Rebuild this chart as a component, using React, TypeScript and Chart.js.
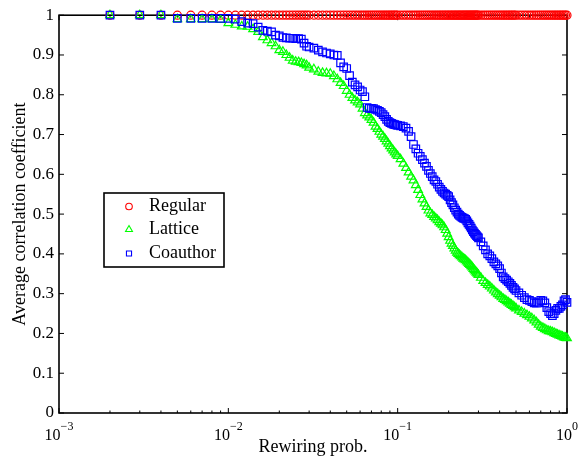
import { useEffect, useRef } from 'react';
import { Chart, registerables } from 'chart.js';

Chart.register(...registerables);

const FONT = "'Liberation Serif', 'Times New Roman', Times, serif";

const xValues = [
  0.002, 0.003, 0.004, 0.005, 0.006, 0.007, 0.008, 0.009, 0.010, 0.011,
  0.012, 0.013, 0.014, 0.015, 0.016, 0.017, 0.018, 0.019, 0.020, 0.021,
  0.022, 0.023, 0.024, 0.025, 0.026, 0.027, 0.028, 0.029, 0.030,
  0.032, 0.034, 0.036, 0.038, 0.040, 0.042, 0.044, 0.046, 0.048, 0.050,
  0.052, 0.054, 0.056, 0.058, 0.060, 0.062, 0.064, 0.066, 0.068, 0.070,
  0.072, 0.074, 0.076, 0.078, 0.080, 0.082, 0.084, 0.086, 0.088, 0.090,
  0.092, 0.094, 0.096, 0.098, 0.100,
  0.104, 0.108, 0.112, 0.116, 0.120, 0.124, 0.128, 0.132, 0.136, 0.140,
  0.144, 0.148, 0.152, 0.156, 0.160, 0.164, 0.168, 0.172, 0.176, 0.180,
  0.184, 0.188, 0.192, 0.196, 0.200, 0.204, 0.208, 0.212, 0.216, 0.220,
  0.224, 0.228, 0.232, 0.236, 0.240, 0.244, 0.248, 0.252, 0.256, 0.260,
  0.264, 0.268, 0.272, 0.276, 0.280, 0.284, 0.288, 0.292, 0.296, 0.300,
  0.31, 0.32, 0.33, 0.34, 0.35, 0.36, 0.37, 0.38, 0.39, 0.40,
  0.41, 0.42, 0.43, 0.44, 0.45, 0.46, 0.47, 0.48, 0.49, 0.50,
  0.52, 0.54, 0.56, 0.58, 0.60, 0.62, 0.64, 0.66, 0.68, 0.70,
  0.72, 0.74, 0.76, 0.78, 0.80, 0.82, 0.84, 0.86, 0.88, 0.90,
  0.92, 0.94, 0.96, 0.98, 1.00,
];

const regular = [
  1, 1, 1, 1, 1, 1, 1, 1, 1, 1,
  1, 1, 1, 1, 1, 1, 1, 1, 1, 1,
  1, 1, 1, 1, 1, 1, 1, 1, 1,
  1, 1, 1, 1, 1, 1, 1, 1, 1, 1,
  1, 1, 1, 1, 1, 1, 1, 1, 1, 1,
  1, 1, 1, 1, 1, 1, 1, 1, 1, 1,
  1, 1, 1, 1, 1,
  1, 1, 1, 1, 1, 1, 1, 1, 1, 1,
  1, 1, 1, 1, 1, 1, 1, 1, 1, 1,
  1, 1, 1, 1, 1, 1, 1, 1, 1, 1,
  1, 1, 1, 1, 1, 1, 1, 1, 1, 1,
  1, 1, 1, 1, 1, 1, 1, 1, 1, 1,
  1, 1, 1, 1, 1, 1, 1, 1, 1, 1,
  1, 1, 1, 1, 1, 1, 1, 1, 1, 1,
  1, 1, 1, 1, 1, 1, 1, 1, 1, 1,
  1, 1, 1, 1, 1, 1, 1, 1, 1, 1,
  1, 1, 1, 1, 1,
];

const lattice = [
  1.0, 1.0, 1.0, 0.99, 0.99, 0.99, 0.99, 0.988, 0.98, 0.976,
  0.972, 0.971, 0.965, 0.958, 0.945, 0.937, 0.93, 0.922, 0.912, 0.908,
  0.9, 0.893, 0.886, 0.883, 0.882, 0.88, 0.877, 0.874, 0.868,
  0.864, 0.858, 0.855, 0.854, 0.853, 0.847, 0.839, 0.83, 0.822, 0.81,
  0.80, 0.792, 0.786, 0.781, 0.776, 0.765, 0.754, 0.748, 0.743, 0.737,
  0.73, 0.72, 0.714, 0.707, 0.70, 0.695, 0.689, 0.683, 0.677, 0.671,
  0.665, 0.66, 0.655, 0.65, 0.646,
  0.638, 0.627, 0.616, 0.605, 0.594, 0.585, 0.573, 0.561, 0.548, 0.537,
  0.527, 0.518, 0.509, 0.502, 0.498, 0.493, 0.489, 0.485, 0.48, 0.476,
  0.472, 0.467, 0.46, 0.451, 0.442, 0.433, 0.426, 0.42, 0.414, 0.408,
  0.403, 0.4, 0.397, 0.394, 0.391, 0.388, 0.386, 0.384, 0.381, 0.378,
  0.375, 0.372, 0.369, 0.366, 0.362, 0.359, 0.356, 0.353, 0.35, 0.347,
  0.34, 0.332, 0.327, 0.322, 0.318, 0.313, 0.308, 0.303, 0.299, 0.295,
  0.291, 0.287, 0.284, 0.281, 0.278, 0.275, 0.272, 0.269, 0.266, 0.263,
  0.258, 0.254, 0.25, 0.246, 0.242, 0.238, 0.233, 0.228, 0.222, 0.217,
  0.214, 0.211, 0.208, 0.206, 0.205, 0.203, 0.201, 0.199, 0.197, 0.195,
  0.194, 0.192, 0.19, 0.189, 0.188,
];

const coauthor = [
  1.0, 1.0, 1.0, 0.992, 0.992, 0.992, 0.992, 0.992, 0.992, 0.99,
  0.984, 0.98, 0.979, 0.97, 0.962, 0.96, 0.958, 0.95, 0.948, 0.944,
  0.943, 0.942, 0.942, 0.941, 0.941, 0.94, 0.93, 0.922, 0.92,
  0.917, 0.912, 0.908, 0.905, 0.903, 0.9, 0.899, 0.88, 0.87, 0.866,
  0.848, 0.832, 0.825, 0.82, 0.812, 0.808, 0.795, 0.768, 0.766, 0.766,
  0.765, 0.763, 0.761, 0.758, 0.755, 0.75, 0.745, 0.738, 0.733, 0.73,
  0.728, 0.726, 0.725, 0.724, 0.723,
  0.722, 0.72, 0.716, 0.708, 0.695, 0.675, 0.664, 0.653, 0.645, 0.637,
  0.628, 0.62, 0.61, 0.602, 0.594, 0.586, 0.582, 0.575, 0.568, 0.562,
  0.557, 0.553, 0.55, 0.547, 0.544, 0.536, 0.529, 0.523, 0.516, 0.51,
  0.505, 0.5, 0.497, 0.494, 0.492, 0.49, 0.489, 0.487, 0.483, 0.478,
  0.474, 0.47, 0.465, 0.46, 0.456, 0.452, 0.449, 0.446, 0.443, 0.44,
  0.43, 0.42, 0.41, 0.4, 0.395, 0.388, 0.38, 0.375, 0.37, 0.363,
  0.352, 0.342, 0.338, 0.334, 0.33, 0.326, 0.321, 0.316, 0.312, 0.308,
  0.302, 0.296, 0.29, 0.285, 0.283, 0.28, 0.277, 0.276, 0.279, 0.283,
  0.282, 0.277, 0.265, 0.255, 0.25, 0.245, 0.25, 0.258, 0.263, 0.263,
  0.268, 0.272, 0.282, 0.285, 0.278,
];

const seriesNames = ['Regular', 'Lattice', 'Coauthor'];
const seriesColors = ['#ff0000', '#00ff00', '#0000ff'];
const seriesStyles = ['circle', 'triangle', 'rect'];
const seriesRadii = [4, 5, 5.3];
const legendRadii = [3.3, 4, 3.6];

const xDecades = [0.001, 0.01, 0.1, 1];
const xDecadeExponents = ['\u22123', '\u22122', '\u22121', '0'];
const xMinorMultipliers = [2, 3, 4, 5, 6, 7, 8, 9];

function drawMarker(ctx: CanvasRenderingContext2D, style: string, x: number, y: number, r: number) {
  ctx.beginPath();
  if (style === 'circle') {
    ctx.arc(x, y, r, 0, Math.PI * 2);
  } else if (style === 'triangle') {
    let rad = 0;
    ctx.moveTo(x + Math.sin(rad) * r, y - Math.cos(rad) * r);
    rad += (2 * Math.PI) / 3;
    ctx.lineTo(x + Math.sin(rad) * r, y - Math.cos(rad) * r);
    rad += (2 * Math.PI) / 3;
    ctx.lineTo(x + Math.sin(rad) * r, y - Math.cos(rad) * r);
    ctx.closePath();
  } else {
    const s = Math.SQRT1_2 * r;
    ctx.rect(x - s, y - s, 2 * s, 2 * s);
  }
  ctx.stroke();
}

const framePlugin = {
  id: 'frameAndTicks',
  beforeDatasetsDraw(chart: any) {
    const { ctx, chartArea, scales } = chart;
    const { left, right, top, bottom } = chartArea;
    const xs = scales.x;
    const ys = scales.y;
    ctx.save();
    ctx.strokeStyle = '#000';
    ctx.lineWidth = 1;
    const line = (x1: number, y1: number, x2: number, y2: number) => {
      ctx.beginPath();
      ctx.moveTo(x1, y1);
      ctx.lineTo(x2, y2);
      ctx.stroke();
    };
    for (const t of ys.ticks) {
      const py = ys.getPixelForValue(t.value);
      line(left, py, left + 5, py);
      line(right, py, right - 5, py);
    }
    xDecades.forEach((d, i) => {
      const px = xs.getPixelForValue(d);
      line(px, bottom, px, bottom - 5);
      line(px, top, px, top + 5);
      if (i < xDecades.length - 1) {
        for (const m of xMinorMultipliers) {
          const mx = xs.getPixelForValue(d * m);
          line(mx, bottom, mx, bottom - 2.5);
          line(mx, top, mx, top + 2.5);
        }
      }
    });
    ctx.lineWidth = 1.6;
    ctx.strokeRect(left, top, right - left, bottom - top);
    ctx.fillStyle = '#000';
    ctx.textBaseline = 'alphabetic';
    ctx.textAlign = 'left';
    xDecades.forEach((d, i) => {
      const px = xs.getPixelForValue(d);
      ctx.font = `16px ${FONT}`;
      const w1 = ctx.measureText('10').width;
      ctx.font = `12px ${FONT}`;
      const w2 = ctx.measureText(xDecadeExponents[i]).width;
      const start = px - (w1 + w2) / 2;
      ctx.font = `16px ${FONT}`;
      ctx.fillText('10', start, bottom + 26.5);
      ctx.font = `12px ${FONT}`;
      ctx.fillText(xDecadeExponents[i], start + w1, bottom + 17);
    });
    ctx.restore();
  },
};

const legendPlugin = {
  id: 'insetLegend',
  afterDatasetsDraw(chart: any) {
    const { ctx } = chart;
    ctx.save();
    const bx = 104, by = 193, bw = 120, bh = 74;
    ctx.fillStyle = '#fff';
    ctx.fillRect(bx, by, bw, bh);
    ctx.strokeStyle = '#000';
    ctx.lineWidth = 1.6;
    ctx.strokeRect(bx, by, bw, bh);
    const rowY = [206.5, 229.5, 253.5];
    seriesNames.forEach((name, i) => {
      ctx.strokeStyle = seriesColors[i];
      ctx.lineWidth = 1.1;
      drawMarker(ctx, seriesStyles[i], 129, rowY[i], legendRadii[i]);
      ctx.fillStyle = '#000';
      ctx.font = `18px ${FONT}`;
      ctx.textBaseline = 'middle';
      ctx.textAlign = 'left';
      ctx.fillText(name, 149, rowY[i]);
    });
    ctx.restore();
  },
};

export default function App() {
  const ref = useRef<HTMLCanvasElement>(null);
  useEffect(() => {
    if (!ref.current) return;
    const seriesData = [regular, lattice, coauthor];
    const chart = new Chart(ref.current, {
      type: 'scatter',
      data: {
        datasets: seriesNames.map((name, i) => ({
          label: name,
          data: xValues.map((x, j) => ({ x, y: seriesData[i][j] })),
          pointStyle: seriesStyles[i] as any,
          pointRadius: seriesRadii[i],
          pointBorderWidth: 1.2,
          pointBorderColor: seriesColors[i],
          pointBackgroundColor: 'rgba(0,0,0,0)',
          borderColor: seriesColors[i],
          backgroundColor: 'rgba(0,0,0,0)',
          showLine: false,
          order: 3 - i,
          clip: false as any,
        })),
      },
      options: {
        animation: false,
        responsive: false,
        devicePixelRatio: 1,
        events: [],
        layout: { padding: { left: 0, right: 20, top: 13.5, bottom: 0 } },
        plugins: {
          legend: { display: false },
          tooltip: { enabled: false },
        },
        scales: {
          x: {
            type: 'logarithmic',
            min: 0.001,
            max: 1,
            ticks: { display: false },
            grid: { display: false, drawTicks: false },
            border: { display: false },
            title: {
              display: true,
              text: 'Rewiring prob.',
              color: '#000',
              font: { family: FONT, size: 18 },
              padding: { top: 0, bottom: 3 },
            },
            afterFit: (s: any) => {
              s.height = 48;
            },
          },
          y: {
            type: 'linear',
            min: 0,
            max: 1,
            ticks: {
              stepSize: 0.1,
              color: '#000',
              font: { family: FONT, size: 17 },
              padding: 5,
              callback: (v: any) => String(Math.round(Number(v) * 10) / 10),
            },
            grid: { display: false, drawTicks: false },
            border: { display: false },
            title: {
              display: true,
              text: 'Average correlation coefficient',
              color: '#000',
              font: { family: FONT, size: 18 },
              padding: { top: 9, bottom: 0 },
            },
            afterFit: (s: any) => {
              s.width = 59;
            },
          },
        },
      },
      plugins: [framePlugin, legendPlugin],
    } as any);
    return () => chart.destroy();
  }, []);
  return (
    <div style={{ position: 'fixed', left: 0, top: 0, width: 587, height: 461, background: '#fff' }}>
      <canvas ref={ref} width={587} height={461} style={{ display: 'block', width: 587, height: 461 }} />
    </div>
  );
}
